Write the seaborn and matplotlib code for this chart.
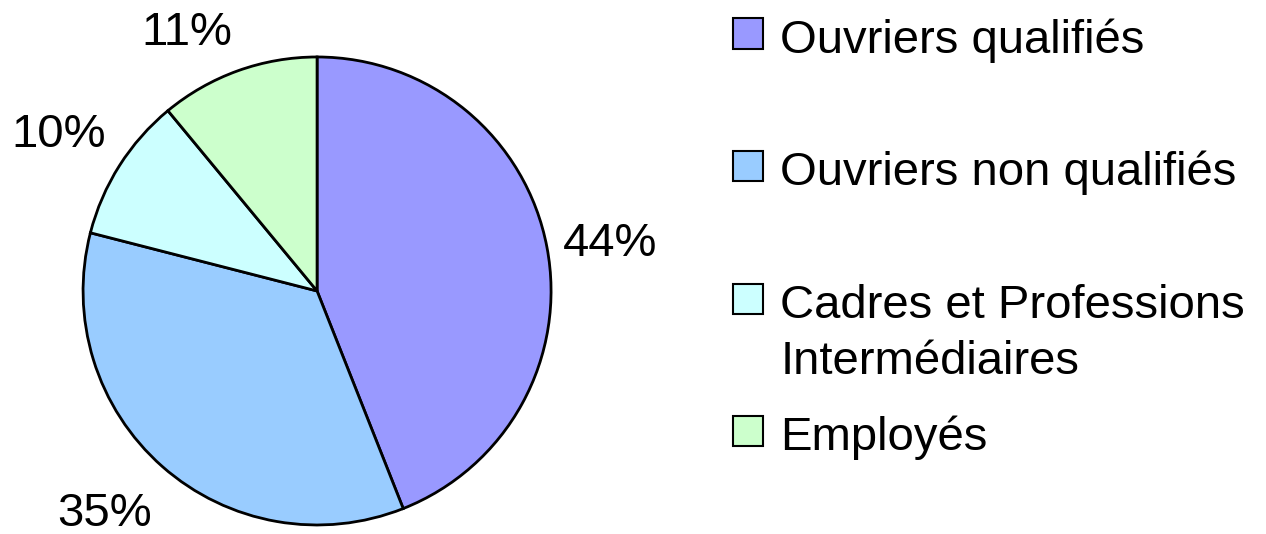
import matplotlib
matplotlib.use("Agg")
import matplotlib.pyplot as plt
import seaborn as sns

sns.set_theme(style="white")
plt.rcParams['font.family'] = ['Liberation Sans', 'DejaVu Sans']

# Données
categories = ["Ouvriers qualifiés", "Ouvriers non qualifiés",
              "Cadres et Professions\nIntermédiaires", "Employés"]
parts = [44, 35, 10, 11]
couleurs = ["#9999FF", "#99CCFF", "#CCFFFF", "#CCFFCC"]

fig = plt.figure(figsize=(12.66, 5.34), dpi=100)
ax = fig.add_axes([0.0656, 0.0169, 0.3697, 0.8764])

wedges, textes = ax.pie(parts, colors=couleurs, startangle=90, counterclock=False,
                        labels=[f"{p}%" for p in parts], labeldistance=1.07,
                        wedgeprops=dict(edgecolor="black", linewidth=2),
                        textprops=dict(fontsize=34, color="black"))
ax.set_xlim(-1, 1)
ax.set_ylim(-1, 1)
ax.set_aspect("equal")

# alignement vertical des étiquettes à la manière d'Excel
for t in textes:
    x, y = t.get_position()
    if y < -0.5:
        t.set_va("top")
        t.set_position((x, y * 1.07))
    elif y > 0.5:
        t.set_va("bottom")

# légende : chaque entrée occupe deux lignes (comme Excel), case alignée sur la 1re ligne
lib_legende = [c if "\n" in c else c + "\n " for c in categories]
leg = fig.legend(wedges, lib_legende, loc="upper left", bbox_to_anchor=(0.579, 0.966),
                 frameon=False, fontsize=34, labelcolor="black", labelspacing=0.67,
                 handlelength=0.64, handleheight=0.62, handletextpad=0.36,
                 borderpad=0, borderaxespad=0)
for t in leg.get_texts():
    t.set_linespacing(1.37)
for h in leg.legend_handles:
    h.set_linewidth(1.5)
for col in leg._legend_handle_box.get_children():
    for row in col.get_children():
        row.align = "top"

fig.savefig("out.png", dpi=100)
